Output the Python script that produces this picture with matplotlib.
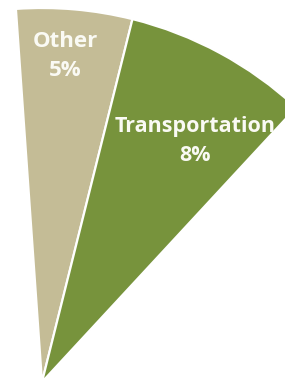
# two slices of a pie chart, cropped view
import matplotlib
matplotlib.use('Agg')
import matplotlib.pyplot as plt

labels = ['Other', 'Transportation']
shares = [5, 8]          # percent
rest = 100 - sum(shares)  # the part of the pie outside the crop
colors = ['#C4BC96', '#77933C']

fig = plt.figure(figsize=(2.85, 3.92), dpi=100)
ax = fig.add_axes([0, 0, 1, 1])

# pixel-like coordinates: the pie centre sits at the bottom left of the crop
wedges, _ = ax.pie(shares + [rest], colors=colors + ['none'],
                   startangle=94, counterclock=False,
                   center=(42, 10), radius=374, normalize=True,
                   wedgeprops=dict(edgecolor='white', linewidth=1.6))
wedges[-1].set_visible(False)

ax.set_xlim(0, 285)
ax.set_ylim(0, 392)
ax.set_aspect('equal')
ax.axis('off')

# labels
txt_color = '#FAFAF4'
ax.text(65, 336, f'{labels[0]}\n{shares[0]}%', color=txt_color, fontsize=16,
        fontweight='bold', family='Open Sans', ha='center', va='center',
        linespacing=1.45)
ax.text(195, 251, f'{labels[1]}\n{shares[1]}%', color=txt_color, fontsize=15.5,
        fontweight='bold', family='Open Sans', ha='center', va='center',
        linespacing=1.45)

plt.savefig('out.png', dpi=100)
